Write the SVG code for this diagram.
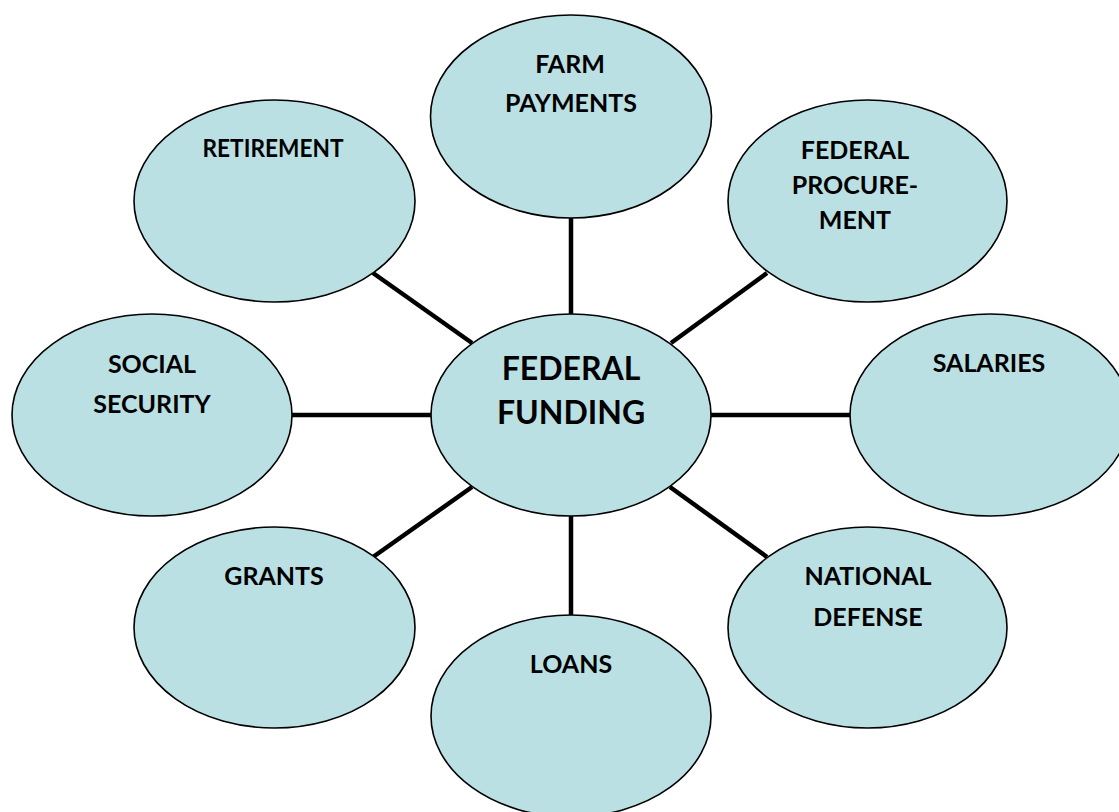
<svg xmlns="http://www.w3.org/2000/svg" width="1119" height="812" viewBox="0 0 1119 812">
  <style>
    .bubble { fill: #BAE0E4; stroke: #000; stroke-width: 1.6; }
    .label { font-family: Lato, "Liberation Sans", sans-serif; font-weight: bold; font-size: 25px; fill: #000; text-anchor: middle; }
    .hub { font-size: 32px; }
    .link { stroke: #000; stroke-width: 4.5; fill: none; }
  </style>
  <rect width="1119" height="812" fill="#fff"/>

  <!-- spokes from the hub to each topic -->
  <g id="connectors">
    <line class="link" x1="571" y1="218" x2="571" y2="314"/>
    <line class="link" x1="571" y1="516" x2="571" y2="615"/>
    <line class="link" x1="292" y1="415" x2="431" y2="415"/>
    <line class="link" x1="711" y1="415" x2="850" y2="415"/>
    <line class="link" x1="373" y1="273" x2="472" y2="343"/>
    <line class="link" x1="767" y1="273" x2="671" y2="343"/>
    <line class="link" x1="472" y1="487" x2="373" y2="557"/>
    <line class="link" x1="670" y1="487" x2="767" y2="557"/>
  </g>

  <g id="farm-payments">
    <ellipse class="bubble" cx="571" cy="116.5" rx="140.5" ry="101.5"/>
    <text class="label" x="570" y="73">FARM</text>
    <text class="label" x="571" y="112">PAYMENTS</text>
  </g>

  <g id="retirement">
    <ellipse class="bubble" cx="274.5" cy="201" rx="140.5" ry="101"/>
    <text class="label" x="273" y="157" textLength="141" lengthAdjust="spacingAndGlyphs">RETIREMENT</text>
  </g>

  <g id="federal-procurement">
    <ellipse class="bubble" cx="867.5" cy="201" rx="139.5" ry="101"/>
    <text class="label" x="855" y="159">FEDERAL</text>
    <text class="label" x="855" y="194">PROCURE-</text>
    <text class="label" x="855" y="229">MENT</text>
  </g>

  <g id="social-security">
    <ellipse class="bubble" cx="152" cy="415" rx="140" ry="101"/>
    <text class="label" x="152" y="373">SOCIAL</text>
    <text class="label" x="152" y="413">SECURITY</text>
  </g>

  <g id="federal-funding">
    <ellipse class="bubble" cx="571" cy="415" rx="140" ry="101"/>
    <text class="label hub" x="571" y="380">FEDERAL</text>
    <text class="label hub" x="571" y="424">FUNDING</text>
  </g>

  <g id="salaries">
    <ellipse class="bubble" cx="990" cy="415" rx="140" ry="101"/>
    <text class="label" x="989" y="372">SALARIES</text>
  </g>

  <g id="grants">
    <ellipse class="bubble" cx="274.5" cy="627.5" rx="140.5" ry="100.5"/>
    <text class="label" x="274" y="585">GRANTS</text>
  </g>

  <g id="national-defense">
    <ellipse class="bubble" cx="867.5" cy="627.5" rx="139.5" ry="100.5"/>
    <text class="label" x="868" y="585">NATIONAL</text>
    <text class="label" x="868" y="626">DEFENSE</text>
  </g>

  <g id="loans">
    <ellipse class="bubble" cx="571" cy="716" rx="140" ry="101"/>
    <text class="label" x="571" y="673">LOANS</text>
  </g>
</svg>
